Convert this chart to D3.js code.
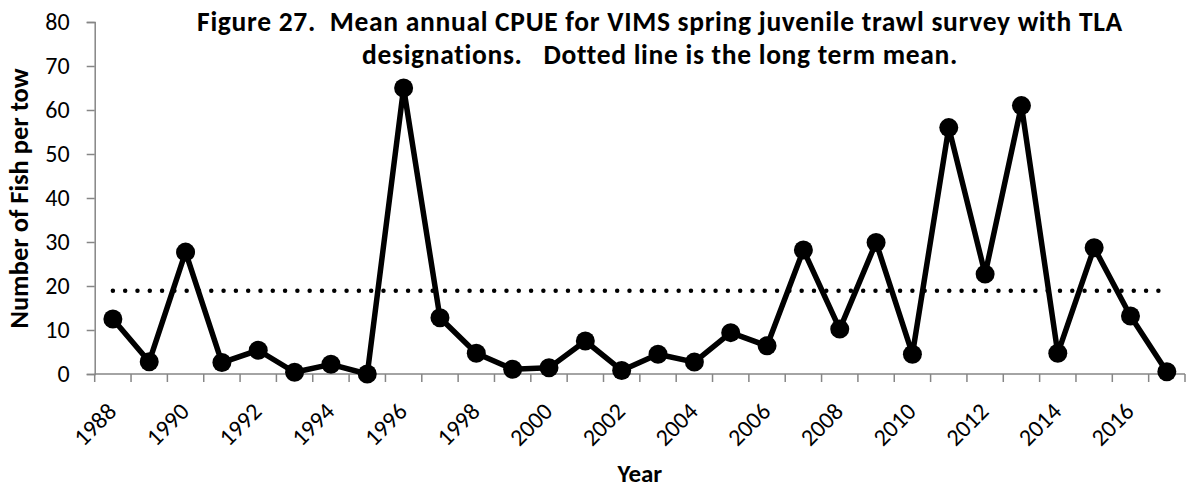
<!DOCTYPE html>
<html>
<head>
<meta charset="utf-8">
<script src="https://cdn.jsdelivr.net/npm/d3@7"></script>
<style>
  body { margin: 0; background: #fff; }
  svg { font-family: Carlito, Calibri, Lato, sans-serif; }
</style>
</head>
<body>
<svg width="1186" height="489"></svg>
<script>
// data
const years = d3.range(1988, 2018);
const cpue = [12.5, 2.8, 27.7, 2.6, 5.4, 0.4, 2.2, 0.0, 65.0, 12.8,
              4.7, 1.1, 1.4, 7.5, 0.8, 4.5, 2.7, 9.4, 6.4, 28.2,
              10.2, 29.9, 4.5, 56.0, 22.7, 61.0, 4.7, 28.7, 13.2, 0.5];
const longTermMean = 18.9;
const yTicks = [0, 10, 20, 30, 40, 50, 60, 70, 80];
const yearLabels = years.filter(d => (d - 1988) % 2 === 0);
const titleLines = ["Figure 27.  Mean annual CPUE for VIMS spring juvenile trawl survey with TLA",
                    "designations.   Dotted line is the long term mean."];

const data = years.map((d, i) => ({year: d, value: cpue[i]}));

const svg = d3.select("svg");
const axisColor = "#868686";

let plotLeft = 94.7, plotRight = 1185, plotTop = 22, plotBottom = 374;

const x = d3.scaleBand()
  .domain(years)
  .range([plotLeft, plotRight])
  .padding(0);
const xc = d => x(d) + x.bandwidth() / 2;

const y = d3.scaleLinear()
  .domain([0, 80])
  .range([plotBottom, plotTop]);

// Y axis
const yAxis = svg.append("g")
  .attr("transform", `translate(${plotLeft}, 0)`)
  .call(d3.axisLeft(y).tickValues(yTicks).tickSize(8).tickPadding(17));
yAxis.select(".domain").attr("stroke", axisColor).attr("stroke-width", 1.5);
yAxis.selectAll(".tick line").attr("stroke", axisColor).attr("stroke-width", 1.5);
yAxis.selectAll("text")
  .attr("font-size", "24px")
  .attr("fill", "#000")
  .attr("font-family", "Carlito, Calibri, Lato, sans-serif");

// X axis line + ticks between categories
const xAxis = svg.append("g");
xAxis.append("line")
  .attr("x1", plotLeft).attr("x2", plotRight)
  .attr("y1", plotBottom).attr("y2", plotBottom)
  .attr("stroke", axisColor).attr("stroke-width", 1.5);
xAxis.selectAll(".xtick")
  .data(years.concat([null]))
  .enter().append("line")
  .attr("x1", d => d === null ? plotRight : x(d))
  .attr("x2", d => d === null ? plotRight : x(d))
  .attr("y1", plotBottom).attr("y2", plotBottom + 8)
  .attr("stroke", axisColor).attr("stroke-width", 1.5);

// X labels, rotated
xAxis.selectAll(".xlabel")
  .data(yearLabels)
  .enter().append("text")
  .attr("transform", d => `translate(${xc(d) - 1}, 407) rotate(-45)`)
  .attr("text-anchor", "end")
  .attr("dy", "0.35em")
  .attr("font-size", "24px")
  .text(d => d);

// long term mean, dotted
svg.append("line")
  .attr("x1", xc(years[0])).attr("x2", xc(years[years.length - 1]))
  .attr("y1", y(longTermMean)).attr("y2", y(longTermMean))
  .attr("stroke", "#000")
  .attr("stroke-width", 4.5)
  .attr("stroke-linecap", "round")
  .attr("stroke-dasharray", "0 12.3");

// series line
const line = d3.line()
  .x(d => xc(d.year))
  .y(d => y(d.value));

svg.append("path")
  .datum(data)
  .attr("d", line)
  .attr("fill", "none")
  .attr("stroke", "#000")
  .attr("stroke-width", 5.5)
  .attr("stroke-linejoin", "round");

svg.selectAll(".pt")
  .data(data)
  .enter().append("circle")
  .attr("cx", d => xc(d.year))
  .attr("cy", d => y(d.value))
  .attr("r", 9.5)
  .attr("fill", "#000");

// Title
svg.append("text")
  .attr("x", 660)
  .attr("text-anchor", "middle")
  .attr("font-weight", "bold")
  .attr("font-size", "27.5px")
  .attr("letter-spacing", "0.7px")
  .style("white-space", "pre")
  .selectAll("tspan")
  .data(titleLines)
  .enter().append("tspan")
  .attr("x", 660)
  .attr("y", (d, i) => 30.5 + i * 33)
  .text(d => d);

// Axis titles
svg.append("text")
  .attr("transform", `translate(28, 198.5) rotate(-90)`)
  .attr("text-anchor", "middle")
  .attr("font-weight", "bold")
  .attr("font-size", "26.5px")
  .text("Number of Fish per tow");

svg.append("text")
  .attr("x", (plotLeft + plotRight) / 2)
  .attr("y", 482)
  .attr("text-anchor", "middle")
  .attr("font-weight", "bold")
  .attr("font-size", "25px")
  .text("Year");
</script>
</body>
</html>
